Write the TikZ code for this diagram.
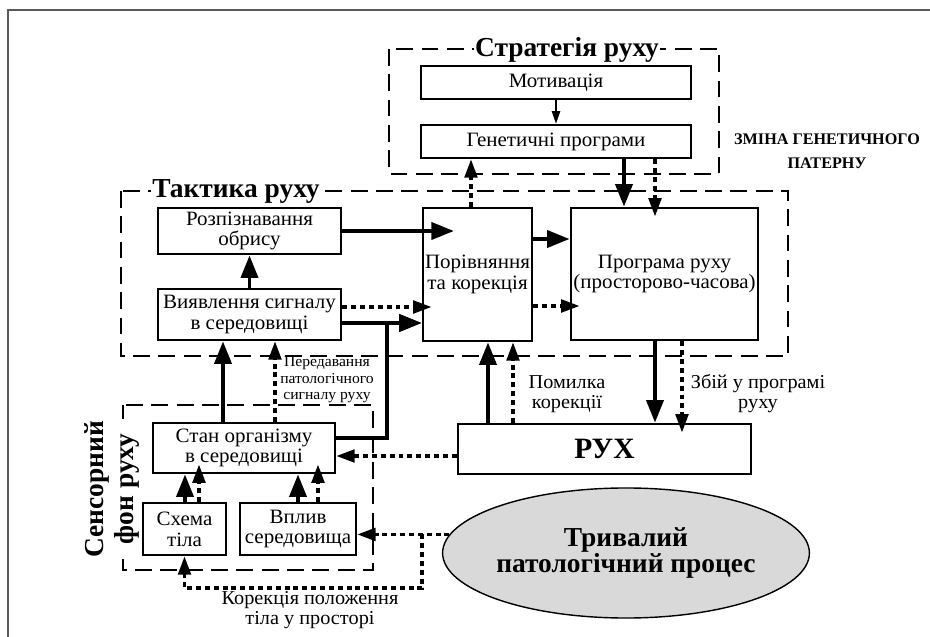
\documentclass[tikz,border=0pt]{standalone}
\usepackage{fontspec}
\setmainfont{Liberation Serif}
\newfontfamily\boxfont[FakeStretch=1.03]{Liberation Serif}
\usetikzlibrary{arrows.meta,shapes.geometric}

\begin{document}
\begin{tikzpicture}[x=0.025cm, y=-0.025cm,
	box/.style={draw, line width=1.9pt, inner sep=0pt, align=center, font=\boxfont\fontsize{14.5}{14.8}\selectfont},
	group/.style={draw, line width=1.8pt, dash pattern=on 12pt off 6pt},
	grouptitle/.style={fill=white, inner sep=1pt, font=\bfseries\fontsize{19.5}{21}\selectfont},
	thickarr/.style={line width=2.8pt, -{Triangle[length=16pt,width=12pt]}},
	dotarr/.style={line width=2.2pt, dash pattern=on 3.5pt off 2.8pt, -{Triangle[length=13pt,width=9pt]}},
	dotin/.style={dotarr, shorten >=-7pt},
	thinarr/.style={line width=1.2pt, -{Triangle[length=9pt,width=6pt]}},
	note/.style={align=center, font=\boxfont\fontsize{14}{14.3}\selectfont}]
	\useasboundingbox (0,0) rectangle (930,637);
	\draw[gray!70!black, line width=1pt] (8,637) -- (8,10) -- (930,10);

	\draw[group] (389,49) rectangle (719,174);
	\node[grouptitle] (strat) at (567,50) {Стратегія руху};
	\draw[group] (121,191) rectangle (788,356);
	\node[grouptitle] (takt) at (236,191) {Тактика руху};
	\draw[group] (123,405) rectangle (373,570);
	\node[grouptitle, rotate=90, align=center] (sens) at (112,489) {Сенсорний\\фон руху};

	\node[box, minimum width=6.75cm, minimum height=0.825cm] (motiv) at (556,82.5) {Мотивація};
	\node[box, minimum width=6.75cm, minimum height=0.825cm] (genet) at (556,141.5) {Генетичні програми};
	\node[box, minimum width=4.575cm, minimum height=1.15cm] (rozp) at (249.5,231) {Розпізнавання\\обрису};
	\node[box, minimum width=4.575cm, minimum height=1.275cm] (vyav) at (249.5,314.5) {Виявлення сигналу\\в середовищі};
	\node[box, minimum width=2.725cm, minimum height=3.325cm] (porivn) at (477.5,274.5) {Порівняння\\та корекція};
	\node[box, minimum width=4.675cm, minimum height=3.3cm] (prog) at (664.5,274) {Програма руху\\(просторово-часова)};
	\node[box, minimum width=7.325cm, minimum height=1.25cm, font=\bfseries\fontsize{21}{21}\selectfont] (rukh) at (604.5,449) {РУХ};
	\node[box, minimum width=4.55cm, minimum height=1.25cm] (stan) at (244,448) {Стан організму\\в середовищі};
	\node[box, minimum width=2.075cm, minimum height=1.3cm] (skhema) at (184.5,529) {Схема\\тіла};
	\node[box, minimum width=2.9cm, minimum height=1.3cm] (vplyv) at (298,529) {Вплив\\середовища};
	\node[draw, ellipse, line width=1pt, fill=gray!30, minimum width=8.05cm, minimum height=3.25cm, inner sep=0pt, align=center, font=\bfseries\fontsize{19.5}{17}\selectfont] (proc) at (626,553) {Тривалий\\патологічний процес};

	\draw[thinarr] (motiv) -- (genet);
	\draw[dotarr] (porivn.north -| 471,0) -- (genet.south -| 471,0);
	\draw[thickarr] (genet.south -| 624,0) -- (prog.north -| 624,0);
	\draw[dotin] (genet.south -| 655,0) -- (prog.north -| 655,0);
	\draw[thickarr, shorten >=-23pt] (rozp.east |- 0,231) -- (porivn.west |- 0,231);
	\draw[thickarr] (porivn.east |- 0,239) -- (prog.west |- 0,239);
	\draw[dotin] (vyav.east |- 0,307) -- (porivn.west |- 0,307);
	\draw[thickarr] (vyav.east |- 0,323) -- (porivn.west |- 0,323);
	\draw[dotin] (porivn.east |- 0,306) -- (prog.west |- 0,306);
	\draw[thickarr] (vyav.north) -- (rozp.south);
	\coordinate (jn) at (387,323);
	\draw[thickarr] (stan.east |- 0,438) -| (jn) -- (porivn.west |- jn);
	\draw[thickarr] (stan.north -| 223,0) -- (vyav.south -| 223,0);
	\draw[dotarr] (stan.north -| 275,0) -- (vyav.south -| 275,0);
	\draw[thickarr] (skhema.north -| 185,0) -- (stan.south -| 185,0);
	\draw[dotin] (skhema.north -| 199,0) -- (stan.south -| 199,0);
	\draw[thickarr] (vplyv.north -| 298,0) -- (stan.south -| 298,0);
	\draw[dotin] (vplyv.north -| 318,0) -- (stan.south -| 318,0);
	\draw[thickarr] (prog.south -| 655,0) -- (rukh.north -| 655,0);
	\draw[dotin] (prog.south -| 682,0) -- (rukh.north -| 682,0);
	\draw[thickarr] (rukh.north -| 488,0) -- (porivn.south -| 488,0);
	\draw[dotarr] (rukh.north -| 513,0) -- (porivn.south -| 513,0);
	\draw[dotarr] (rukh.west |- 0,456) -- (stan.east |- 0,456);
	\coordinate (br) at (proc.174 -| 422,0);
	\draw[dotarr] (proc.174) -- (vplyv.east |- proc.174);
	\draw[dotarr] (br) -- (br |- 0,588) -| (skhema.south);

	\node[note, font=\boxfont\fontsize{10.8}{11.7}\selectfont] (pered) at (327,380) {Передавання\\патологічного\\сигналу руху};
	\node[note] (pomyl) at (567,394) {Помилка\\корекції};
	\node[note] (zbii) at (758,394) {Збій у програмі\\руху};
	\node[note] (korek) at (310,610) {Корекція положення\\тіла у просторі};
	\node[align=center, font=\bfseries\fontsize{11.5}{17}\selectfont] (zmina) at (827,151) {ЗМІНА ГЕНЕТИЧНОГО\\ПАТЕРНУ};
\end{tikzpicture}
\end{document}
